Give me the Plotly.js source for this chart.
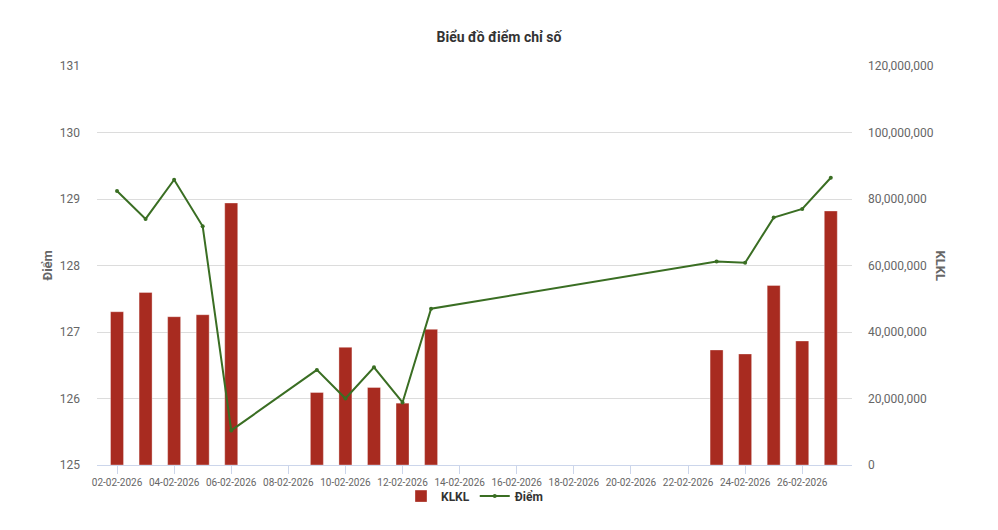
<!DOCTYPE html>
<html>
<head>
<meta charset="utf-8">
<script src="https://cdn.plot.ly/plotly-3.0.1.min.js"></script>
<style>html,body{margin:0;padding:0;background:#fff;}#chart{width:998px;height:530px;}</style>
</head>
<body>
<div id="chart"></div>
<script>
const dates = ['2026-02-02','2026-02-03','2026-02-04','2026-02-05','2026-02-06',
  '2026-02-09','2026-02-10','2026-02-11','2026-02-12','2026-02-13',
  '2026-02-23','2026-02-24','2026-02-25','2026-02-26','2026-02-27'];
const klkl = [46100000, 51900000, 44600000, 45200000, 78800000,
  21800000, 35400000, 23300000, 18600000, 40800000,
  34600000, 33400000, 54000000, 37300000, 76400000];
const diem = [129.12, 128.70, 129.29, 128.59, 125.52,
  126.43, 126.00, 126.47, 125.94, 127.35,
  128.06, 128.04, 128.72, 128.85, 129.32];
const rightTicks = [0, 20000000, 40000000, 60000000, 80000000, 100000000, 120000000];
const rightTickText = ['0','20,000,000','40,000,000','60,000,000','80,000,000','100,000,000','120,000,000'];

const FONT = 'Roboto, "Noto Sans", sans-serif';

const traces = [
  {
    type: 'bar', name: 'KLKL', x: dates, y: klkl, yaxis: 'y',
    width: 13 * 86400000 / 28.55,
    marker: {color: '#a82b20', line: {color: 'rgba(255,255,255,0.35)', width: 1}},
    hoverinfo: 'skip'
  },
  {
    type: 'scatter', mode: 'lines+markers', name: 'Điểm', x: dates, y: diem, yaxis: 'y2',
    line: {color: '#3a6e23', width: 2},
    marker: {color: '#3a6e23', size: 4},
    hoverinfo: 'skip'
  }
];

const layout = {
  width: 998, height: 530,
  margin: {l: 97, r: 146, t: 66, b: 65},
  paper_bgcolor: '#fff', plot_bgcolor: '#fff',
  font: {family: FONT, color: '#666', size: 11},
  title: {text: '<b>Biểu đồ điểm chỉ số</b>', x: 0.5, xanchor: 'center', y: 0.93, yanchor: 'middle',
    font: {family: FONT, size: 14, color: '#333'}},
  showlegend: true,
  legend: {orientation: 'h', x: 0.5, xanchor: 'center', y: -0.078, yanchor: 'middle',
    bgcolor: 'rgba(0,0,0,0)',
    font: {family: FONT, size: 12, color: '#333', weight: 'bold'}, traceorder: 'normal'},
  xaxis: {
    type: 'date', range: ['2026-02-01 07:10', '2026-02-27 17:50'],
    tick0: '2026-02-02', dtick: 2 * 86400000, tickformat: '%d-%m-%Y',
    tickangle: 0,
    showgrid: false, zeroline: false,
    showline: true, linecolor: '#ccd6eb', linewidth: 1,
    ticks: 'outside', ticklen: 8, tickcolor: '#ccd6eb',
    tickfont: {family: FONT, size: 10, color: '#666'}
  },
  yaxis: {
    side: 'right', range: [0, 120000000],
    tickvals: rightTicks, ticktext: rightTickText,
    showgrid: true, gridcolor: '#dcdcdc', gridwidth: 1,
    zeroline: false, showline: false, ticks: '', ticklabelstandoff: 15,
    tickfont: {family: FONT, size: 12, color: '#666'}
  },
  yaxis2: {
    overlaying: 'y', side: 'left',
    range: [125, 131], dtick: 1, tick0: 125,
    showgrid: false, zeroline: false,
    showline: false, ticks: '', ticklabelstandoff: 16,
    tickfont: {family: FONT, size: 12, color: '#666'}
  },
  annotations: [
    {text: '<b>Điểm</b>', xref: 'paper', yref: 'paper', x: 0, xshift: -50, y: 0.5,
     xanchor: 'center', yanchor: 'middle', textangle: -90, showarrow: false,
     font: {family: FONT, size: 13, color: '#666'}},
    {text: '<b>KLKL</b>', xref: 'paper', yref: 'paper', x: 1, xshift: 88, y: 0.5,
     xanchor: 'center', yanchor: 'middle', textangle: 90, showarrow: false,
     font: {family: FONT, size: 13, color: '#666'}}
  ]
};

Plotly.newPlot('chart', traces, layout, {displayModeBar: false, staticPlot: true});
</script>
</body>
</html>
